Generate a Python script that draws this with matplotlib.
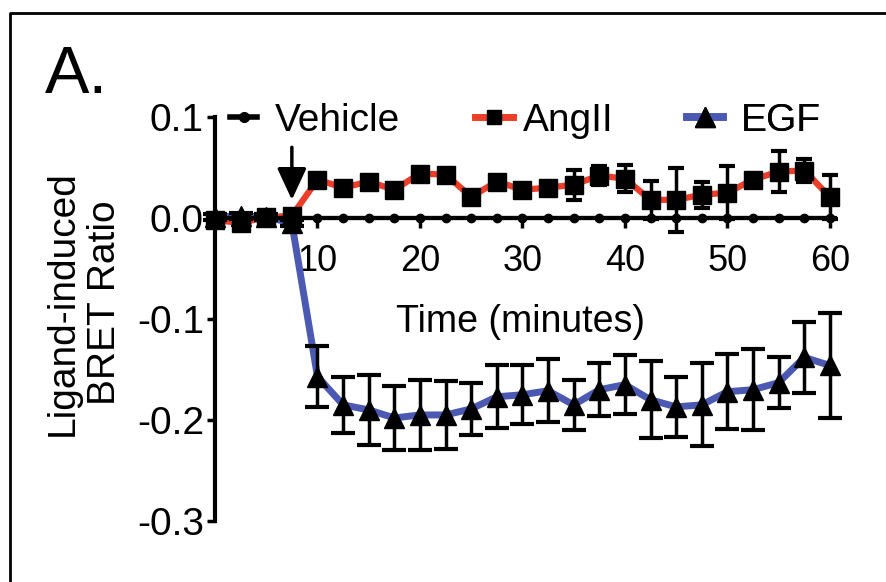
import numpy as np
import matplotlib
matplotlib.use("Agg")
import matplotlib.pyplot as plt
from matplotlib.lines import Line2D

plt.rcParams["font.family"] = ["Liberation Sans", "DejaVu Sans"]

# 時間 (分)
time_min = [0, 2.5, 5, 7.5, 10, 12.5, 15, 17.5, 20, 22.5, 25, 27.5, 30,
            32.5, 35, 37.5, 40, 42.5, 45, 47.5, 50, 52.5, 55, 57.5, 60]

vehicle = [0.0] * 25

angii = [-0.002, -0.005, 0.001, 0.002, 0.038, 0.030, 0.036, 0.028, 0.044,
         0.043, 0.021, 0.036, 0.028, 0.030, 0.033, 0.042, 0.039, 0.018,
         0.018, 0.023, 0.025, 0.038, 0.046, 0.047, 0.021]
angii_err = [0.003, 0.003, 0.003, 0.003, 0.006, 0.004, 0.005, 0.004, 0.005,
             0.006, 0.005, 0.006, 0.004, 0.004, 0.015, 0.009, 0.013, 0.019,
             0.032, 0.013, 0.026, 0.005, 0.020, 0.011, 0.022]

egf = [0.001, 0.002, 0.001, -0.005, -0.157, -0.185, -0.190, -0.198, -0.195,
       -0.195, -0.189, -0.177, -0.175, -0.171, -0.185, -0.170, -0.165,
       -0.180, -0.187, -0.185, -0.172, -0.170, -0.163, -0.138, -0.146]
egf_err = [0.003, 0.003, 0.003, 0.003, 0.030, 0.028, 0.035, 0.032, 0.035,
           0.034, 0.026, 0.031, 0.029, 0.031, 0.025, 0.026, 0.029, 0.038,
           0.030, 0.041, 0.037, 0.040, 0.025, 0.035, 0.052]

x_ticks = [10, 20, 30, 40, 50, 60]
x_ticklabels = ["10", "20", "30", "40", "50", "60"]
y_ticks = [-0.3, -0.2, -0.1, 0.0, 0.1]
y_ticklabels = ["-0.3", "-0.2", "-0.1", "0.0", "0.1"]

RED = "#ee3e2a"
BLUE = "#4b59b3"

W, H = 887, 582
fig = plt.figure(figsize=(W / 100, H / 100), dpi=100)
ax = fig.add_axes([215 / W, (H - 521) / H, 620 / W, 404 / H])
ax.set_xlim(0, 60.5)
ax.set_ylim(-0.3, 0.1)

# 線
ax.plot(time_min, egf, color=BLUE, lw=5, zorder=2, clip_on=False,
        solid_joinstyle="round")
ax.plot(time_min, angii, color=RED, lw=4.5, zorder=2.1, clip_on=False,
        solid_joinstyle="round")
ax.plot(time_min, vehicle, color="k", lw=3, marker="o", ms=6, zorder=3,
        clip_on=False)

# エラーバー+マーカー
eb_kw = dict(color="k", capthick=3, elinewidth=2.5, clip_on=False)
ax.errorbar(time_min, angii, yerr=angii_err, fmt="s", ms=13, capsize=5.8,
            zorder=4, **eb_kw)
ax.errorbar(time_min, egf, yerr=egf_err, fmt="^", ms=15, capsize=8.3,
            zorder=4, **eb_kw)

# 矢印 (リガンド添加)
ax.annotate("", xy=(7.5, 0.018), xytext=(7.5, 0.070),
            arrowprops=dict(arrowstyle="-|>,head_length=0.97,head_width=0.45",
                            color="k", lw=2.5, mutation_scale=20,
                            shrinkA=0, shrinkB=0))

# 軸
for s in ["top", "right"]:
    ax.spines[s].set_visible(False)
ax.spines["left"].set_linewidth(3)
ax.spines["bottom"].set_linewidth(3)
ax.spines["bottom"].set_position(("data", 0))
ax.set_xticks(x_ticks)
ax.set_xticklabels(x_ticklabels)
ax.set_yticks(y_ticks)
ax.set_yticklabels(y_ticklabels)
ax.tick_params(axis="x", direction="out", length=7, width=2.5, labelsize=26, pad=12)
ax.tick_params(axis="y", direction="out", length=6, width=2.5, labelsize=28, pad=2)

fig.text(521 / W, 1 - 322 / H, "Time (minutes)", fontsize=27,
         ha="center", va="center")
fig.text(84 / W, 1 - 303 / H, "Ligand-induced\nBRET Ratio", fontsize=28,
         rotation=90, ha="center", va="center", linespacing=1.2)
fig.text(45 / W, 1 - 93 / H, "A.", fontsize=48, ha="left", va="baseline")

# 凡例
handles = [
    Line2D([], [], color="k", lw=4, marker="o", ms=7),
    Line2D([], [], color=RED, lw=5, marker="s", mfc="k", mec="k", ms=10),
    Line2D([], [], color=BLUE, lw=5.5, marker="^", mfc="k", mec="k", ms=14),
]
names = ["Vehicle", "AngII", "EGF"]
left_px = [230, 475, 687]
hlen = [0.7, 0.98, 0.93]
hpad = [0.46, 0.26, 0.44]
for h, n, lx, hl, hp in zip(handles, names, left_px, hlen, hpad):
    leg = ax.legend([h], [n], loc="center left",
                    bbox_to_anchor=(lx / W, 1 - 121 / H),
                    bbox_transform=fig.transFigure, frameon=False,
                    fontsize=28, handlelength=hl, handletextpad=hp,
                    borderpad=0, borderaxespad=0)
    ax.add_artist(leg)

# 外枠 (左と上のみ見える)
fig.add_artist(Line2D([10 / W, 10 / W, 1.0], [0.0, 1 - 13 / H, 1 - 13 / H],
                      transform=fig.transFigure, color="k", lw=2))

fig.savefig("out.png", dpi=100)
